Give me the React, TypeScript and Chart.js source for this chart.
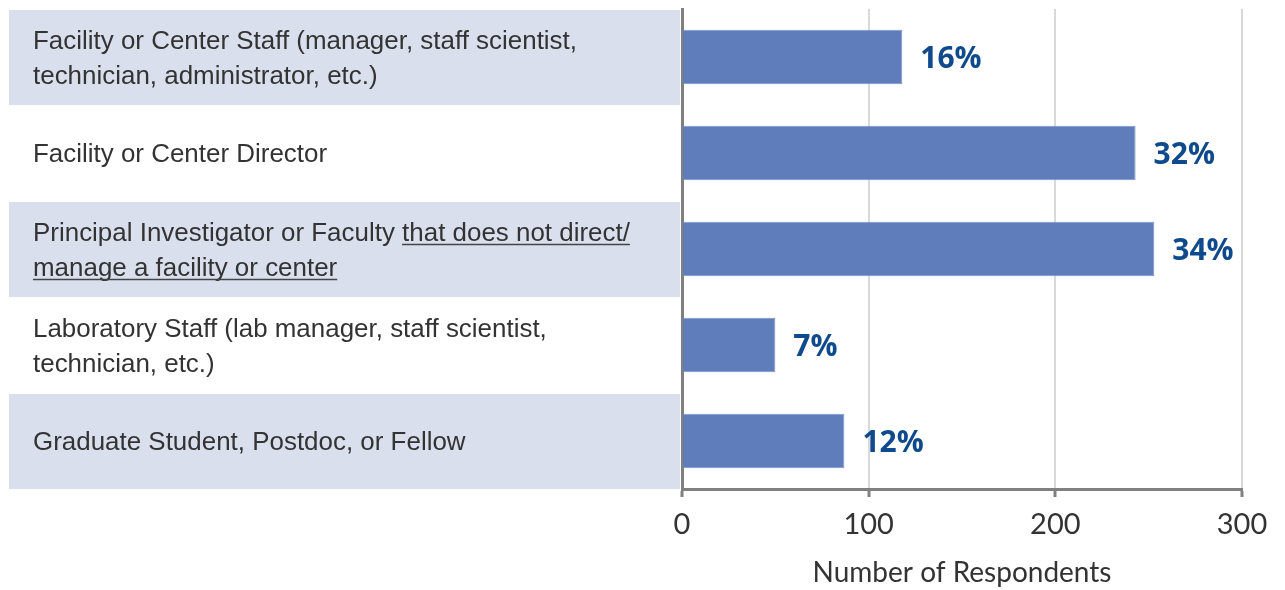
import React, { useEffect, useRef } from "react";
import { Chart, registerables } from "chart.js";

Chart.register(...registerables);

// ---------- DATA ----------
const categories: string[] = [
  "Facility or Center Staff (manager, staff scientist, technician, administrator, etc.)",
  "Facility or Center Director",
  "Principal Investigator or Faculty that does not direct/manage a facility or center",
  "Laboratory Staff (lab manager, staff scientist, technician, etc.)",
  "Graduate Student, Postdoc, or Fellow",
];

const categoryLines: string[][] = [
  ["Facility or Center Staff (manager, staff scientist,", "technician, administrator, etc.)"],
  ["Facility or Center Director"],
  ["Principal Investigator or Faculty that does not direct/", "manage a facility or center"],
  ["Laboratory Staff (lab manager, staff scientist,", "technician, etc.)"],
  ["Graduate Student, Postdoc, or Fellow"],
];

const underlinedParts: string[] = ["that does not direct/", "manage a facility or center"];

const respondents: number[] = [118, 243, 253, 50, 87];
const percentLabels: string[] = ["16%", "32%", "34%", "7%", "12%"];

const xMin = 0;
const xMax = 300;
const xStep = 100;
const xTitle = "Number of Respondents";

// ---------- STYLE ----------
const BAR_COLOR = "#5f7cbb";
const BAR_BORDER = "#7c94ca";
const BAND_COLOR = "#d9dfed";
const AXIS_COLOR = "#808080";
const GRID_COLOR = "#d9d9d9";
const TEXT_COLOR = "#333333";
const PCT_COLOR = "#0e4a8c";

const labelPlugin = {
  id: "rowLabels",
  beforeDraw(chart: any) {
    const { ctx, chartArea } = chart;
    const yScale = chart.scales.y;
    const half = (yScale.getPixelForValue(1) - yScale.getPixelForValue(0)) / 2;
    ctx.save();
    ctx.fillStyle = BAND_COLOR;
    categories.forEach((_, i) => {
      if (i % 2 === 0) {
        const yc = yScale.getPixelForValue(i);
        ctx.fillRect(9, yc - half + 1, chartArea.left - 11, half * 2 - 1);
      }
    });
    ctx.restore();
  },
  afterDatasetsDraw(chart: any) {
    const { ctx } = chart;
    const meta = chart.getDatasetMeta(0);
    ctx.save();
    ctx.fillStyle = PCT_COLOR;
    ctx.font = 'bold 30px "Open Sans"';
    ctx.textAlign = "left";
    ctx.textBaseline = "alphabetic";
    meta.data.forEach((bar: any, i: number) => {
      ctx.fillText(percentLabels[i], bar.x + 18, bar.y + 11);
    });
    ctx.restore();
  },
  afterDraw(chart: any) {
    const { ctx } = chart;
    const yScale = chart.scales.y;
    ctx.save();
    ctx.font = '25px "Liberation Sans"';
    ctx.fillStyle = TEXT_COLOR;
    ctx.strokeStyle = "#444444";
    ctx.textAlign = "left";
    ctx.textBaseline = "alphabetic";
    const refW = ctx.measureText(categoryLines[0][0]).width;
    const sx = 544 / refW;
    const lineGap = 35;
    categoryLines.forEach((lines, i) => {
      const yc = yScale.getPixelForValue(i);
      const n = lines.length;
      lines.forEach((line, j) => {
        const lineCenter = yc + (j - (n - 1) / 2) * lineGap;
        const base = lineCenter + 9;
        ctx.save();
        ctx.translate(33, base);
        ctx.scale(sx, 1);
        ctx.fillText(line, 0, 0);
        underlinedParts.forEach((part) => {
          const idx = line.indexOf(part);
          if (idx >= 0) {
            const x0 = ctx.measureText(line.slice(0, idx)).width;
            const w = ctx.measureText(part).width;
            ctx.lineWidth = 1.5;
            ctx.beginPath();
            ctx.moveTo(x0, 4);
            ctx.lineTo(x0 + w, 4);
            ctx.stroke();
          }
        });
        ctx.restore();
      });
    });
    ctx.restore();
  },
};

export default function App() {
  const canvasRef = useRef<HTMLCanvasElement | null>(null);

  useEffect(() => {
    document.body.style.margin = "0";
    document.body.style.overflow = "hidden";
    const canvas = canvasRef.current;
    if (!canvas) return;
    const chart = new Chart(canvas, {
      type: "bar",
      data: {
        labels: categories,
        datasets: [
          {
            data: respondents,
            backgroundColor: BAR_COLOR,
            borderColor: BAR_BORDER,
            borderWidth: 1,
            categoryPercentage: 1,
            barPercentage: 0.57,
          },
        ],
      },
      options: {
        indexAxis: "y",
        animation: false,
        responsive: false,
        maintainAspectRatio: false,
        layout: { padding: { top: 9, right: 43, left: 0, bottom: 0 } },
        plugins: {
          legend: { display: false },
          tooltip: { enabled: false },
        },
        scales: {
          y: {
            type: "category",
            ticks: { display: false },
            grid: { display: false, drawTicks: false },
            border: { display: true, color: AXIS_COLOR, width: 3 },
            afterFit(scale: any) {
              scale.width = 682;
            },
          },
          x: {
            type: "linear",
            min: xMin,
            max: xMax,
            ticks: {
              stepSize: xStep,
              color: TEXT_COLOR,
              font: { family: "Lato", size: 29 },
              padding: 10,
            },
            grid: {
              color: GRID_COLOR,
              lineWidth: 2,
              tickLength: 8,
              tickColor: AXIS_COLOR,
              tickWidth: 3,
            },
            border: { display: true, color: AXIS_COLOR, width: 3 },
            title: {
              display: true,
              text: xTitle,
              color: TEXT_COLOR,
              font: { family: "Lato", size: 28 },
              padding: { top: 0, bottom: 0 },
            },
            afterFit(scale: any) {
              scale.height = 101;
            },
          },
        },
      },
      plugins: [labelPlugin],
    });
    return () => chart.destroy();
  }, []);

  return (
    <div style={{ width: 1285, height: 590, position: "relative" }}>
      <canvas ref={canvasRef} width={1285} height={590} style={{ display: "block" }} />
    </div>
  );
}
